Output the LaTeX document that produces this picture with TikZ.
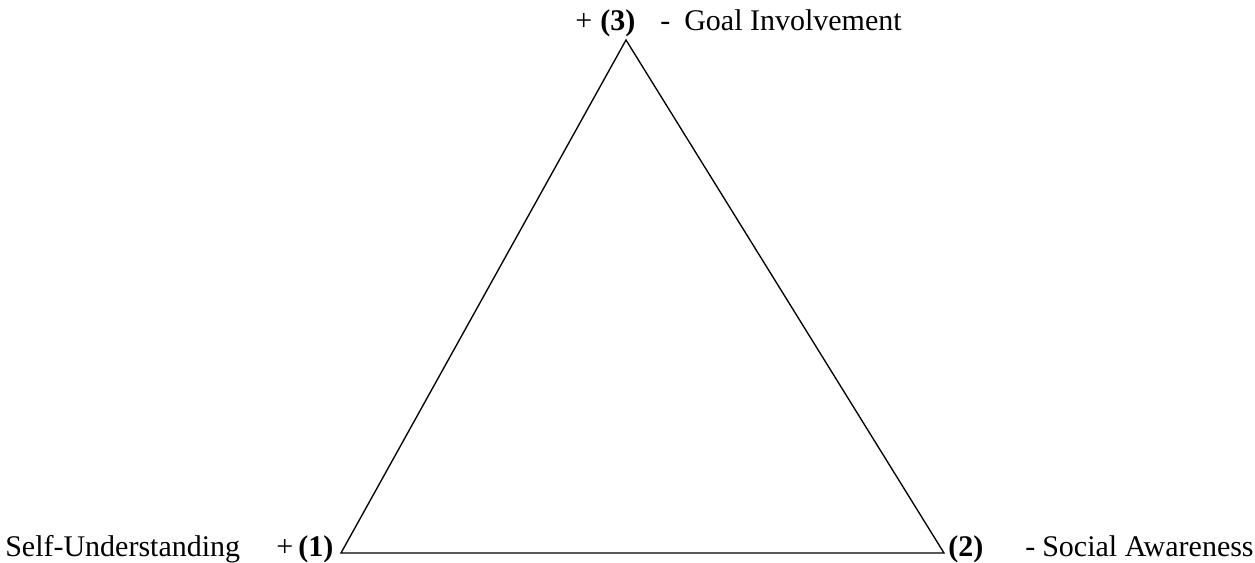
\documentclass[tikz,border=0pt]{standalone}
\usepackage{fontspec}
\setmainfont{Liberation Serif}
\begin{document}
\begin{tikzpicture}[x=0.75pt,y=0.75pt,yscale=-1,xscale=1,
  lbl/.style={anchor=base west,inner sep=0pt,font=\fontsize{22.5}{27}\selectfont}]
\useasboundingbox (0,0) rectangle (1255,563);

%Shape: Triangle
\coordinate (v1) at (341,553);
\coordinate (v2) at (944,553);
\coordinate (v3) at (626,40);
\draw [line width=1pt, line join=miter] (v1) -- (v2) -- (v3) -- cycle ;

% Text Node
\node [lbl] (plus3) at (575,31) {+};
% Text Node
\node [lbl] (num3) at (600,31) {\textbf{(3)}};
% Text Node
\node [lbl] (dash3) at (660,31) {-};
% Text Node
\node [lbl] (goal) at (684,31) {Goal Involvement};
% Text Node
\node [lbl] (self) at (5,556) {Self-Understanding};
% Text Node
\node [lbl] (plus1) at (276,556) {+};
% Text Node
\node [lbl] (num1) at (298,556) {\textbf{(1)}};
% Text Node
\node [lbl] (num2) at (948,556) {\textbf{(2)}};
% Text Node
\node [lbl] (dash2) at (1025,556) {-};
% Text Node
\node [lbl] (social) at (1042,556) {Social Awareness};

\end{tikzpicture}
\end{document}
